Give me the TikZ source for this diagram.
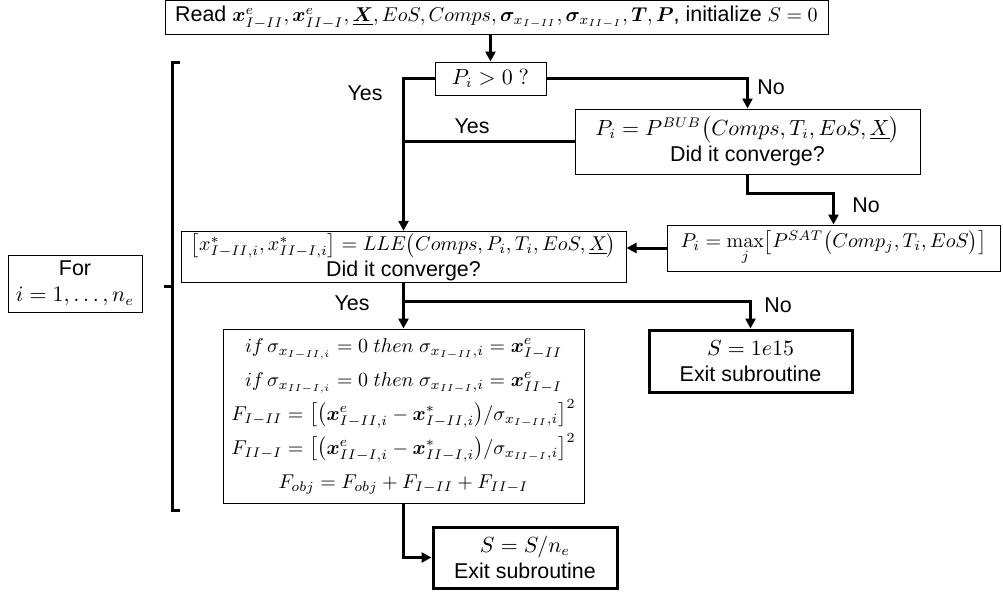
\documentclass[tikz,border=0pt]{standalone}
\usepackage{amsmath,bm}
\usepackage[no-math]{fontspec}
\setmainfont{Liberation Sans}
\usetikzlibrary{arrows.meta}
\newcommand{\msz}{\fontsize{9.9}{12}\selectfont}

\begin{document}
\begin{tikzpicture}[x=0.5pt,y=-0.5pt,font=\fontsize{10.7}{13}\selectfont,
  box/.style={draw,line width=0.5pt,align=center,inner sep=1pt},
  endbox/.style={box,line width=1.5pt},
  ln/.style={line width=1.5pt},
  arr/.style={ln,-{Triangle[length=5pt,width=5pt]}}]
  \useasboundingbox (0,0) rectangle (1003,594);
  \node[box,minimum width=331.5pt,minimum height=16.5pt] (read) at (496.5,17.5)
    {Read {\msz$\bm{x}^e_{I-II}, \bm{x}^e_{II-I}, \underline{\bm{X}}, EoS, Comps,
     \bm{\sigma}_{x_{I-II}}, \bm{\sigma}_{x_{II-I}}, \bm{T}, \bm{P}$}, initialize {\msz$S=0$}};
  \node[box,minimum width=55.5pt,minimum height=16.5pt] (pos) at (490.5,78.5) {$P_i > 0\ ?$};
  \node[box,minimum width=172.5pt,minimum height=32.5pt] (bub) at (747.5,141.5)
    {$P_i = P^{BUB}\bigl(Comps, T_i, EoS, \underline{X}\bigr)$\\ Did it converge?};
  \node[box,minimum width=222.5pt,minimum height=23pt] (lle) at (403.5,257)
    {{\msz$\bigl[x^*_{I-II,i}, x^*_{II-I,i}\bigr] = LLE\bigl(Comps, P_i, T_i, EoS, \underline{X}\bigr)$}\\ Did it converge?};
  \node[box,minimum width=166.5pt,minimum height=23pt] (psat) at (833.5,248)
    {{\msz$P_i = \max\limits_j\bigl[P^{SAT}\bigl(Comp_j, T_i, EoS\bigr)\bigr]$}};
  \node[box,minimum width=180.5pt,minimum height=87pt,font=\fontsize{9.9}{17}\selectfont] (check) at (403.5,416)
    {$if\,\sigma_{x_{I-II,i}} = 0\ then\ \sigma_{x_{I-II},i} = \bm{x}^e_{I-II}$\\
     $if\,\sigma_{x_{II-I,i}} = 0\ then\ \sigma_{x_{II-I},i} = \bm{x}^e_{II-I}$\\
     $F_{I-II} = \bigl[\bigl(\bm{x}^e_{I-II,i} - \bm{x}^*_{I-II,i}\bigr)/\sigma_{x_{I-II},i}\bigr]^2$\\
     $F_{II-I} = \bigl[\bigl(\bm{x}^e_{II-I,i} - \bm{x}^*_{II-I,i}\bigr)/\sigma_{x_{II-I},i}\bigr]^2$\\
     $F_{obj} = F_{obj} + F_{I-II} + F_{II-I}$};
  \node[endbox,minimum width=101.5pt,minimum height=31pt] (fail) at (750.5,361)
    {$S = 1e15$\\ Exit subroutine};
  \node[endbox,minimum width=92pt,minimum height=30.5pt] (done) at (525,557.5)
    {$S = S/n_e$\\ Exit subroutine};
  \node[box,minimum width=67pt,minimum height=28.5pt] (for) at (75,283.5)
    {For\\ $i = 1, \dots, n_e$};
  % loop bracket
  \draw[ln] (180,62) -- (172,62) -- (172,510) -- (180,510);
  \draw[ln] (172,286) -- (164,286);
  % branch labels
  \node (yes1) at (365,93) {Yes};
  \node (yes2) at (472,126) {Yes};
  \node (no1) at (771,87) {No};
  \node (no2) at (866,205) {No};
  \node (yes3) at (352,303) {Yes};
  \node (no3) at (778,305) {No};
  % connectors
  \draw[arr] (pos.north |- read.south) -- (pos.north);
  \draw[arr] (pos.west) -| (lle.north);
  \draw[arr] (pos.east) -| (bub.north);
  \draw[ln] (bub.west) -- (bub.west -| lle.north);
  \draw[arr] (bub.south) -- ++(0,19) -| (psat.north);
  \draw[arr] (psat.west) -- (psat.west -| lle.east);
  \draw[arr] (lle.south) -- (check.north);
  \path (lle.south) ++(0,18) coordinate (split);
  \draw[arr] (split) -| (fail.north);
  \draw[arr] (check.south) |- (done.west);
\end{tikzpicture}
\end{document}
